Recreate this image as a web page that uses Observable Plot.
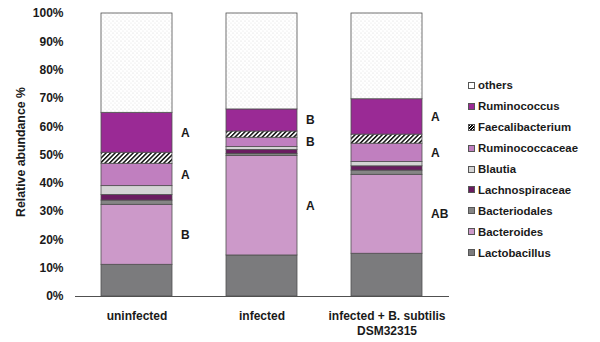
<!DOCTYPE html>
<html><head><meta charset="utf-8">
<script src="https://cdn.jsdelivr.net/npm/d3@7"></script>
<script src="https://cdn.jsdelivr.net/npm/@observablehq/plot@0.6"></script>
<style>
body{margin:0;background:#fff;}
#wrap{position:relative;width:600px;height:342px;font-family:"Liberation Sans",Arial,sans-serif;}
#legend{position:absolute;left:468px;top:75px;}
.item{display:flex;align-items:center;height:20.9px;font-size:11.4px;font-weight:bold;color:#1a1a1a;white-space:nowrap;}
.sw{width:5px;height:5px;border:1px solid #555;margin-right:3px;flex:none;}
#ylab{position:absolute;left:21px;top:152px;transform:translate(-50%,-50%) rotate(-90deg);font-size:12.3px;font-weight:bold;color:#1a1a1a;white-space:nowrap;}
</style></head>
<body><div id="wrap"><div id="legend"></div><div id="ylab"></div></div>
<script>
const groups = ["uninfected", "infected", "infected + B. subtilis DSM32315"];
const tickLabels = ["uninfected", "infected", "infected + B. subtilis\nDSM32315"];
const yLabel = "Relative abundance %";
const taxa = ["Lactobacillus", "Bacteroides", "Bacteriodales", "Lachnospiraceae", "Blautia", "Ruminococcaceae", "Faecalibacterium", "Ruminococcus", "others"];
const uninfected = [11.2, 21.2, 1.5, 2.0, 3.1, 7.9, 3.9, 14.1, 35.1];
const infected = [14.5, 35.2, 0.7, 1.4, 1.0, 3.3, 2.2, 7.8, 33.9];
const infectedBs = [15.1, 27.9, 1.5, 1.5, 1.5, 6.5, 3.2, 12.5, 30.3];
const fills = ["#7b7b7d", "#cc99c9", "#858585", "#6a1c60", "#d4d4d4", "#c07fbf", "url(#hatch)", "#9a2a95", "url(#dots)"];
const legendBg = ["#7b7b7d", "#cc99c9", "#858585", "#6a1c60", "#d4d4d4", "#c07fbf", "repeating-linear-gradient(135deg,#000 0 1px,#fff 1px 2px)", "#9a2a95", "#fff"];
const letteredTaxa = ["Bacteroides", "Ruminococcaceae", "Ruminococcus"];
const lettersUninfected = ["B", "A", "A"];
const lettersInfected = ["A", "B", "B"];
const lettersInfectedBs = ["AB", "A", "A"];
const yTicks = [0, 10, 20, 30, 40, 50, 60, 70, 80, 90, 100];

const valueSets = [uninfected, infected, infectedBs];
const letterSets = [lettersUninfected, lettersInfected, lettersInfectedBs];
const rows = [];
groups.forEach((g, gi) => {
  taxa.forEach((t, ti) => {
    const li = letteredTaxa.indexOf(t);
    rows.push({group: g, taxon: t, value: valueSets[gi][ti], letter: li >= 0 ? letterSets[gi][li] : ""});
  });
});

const chart = Plot.plot({
  width: 600, height: 342,
  marginLeft: 75, marginRight: 151, marginTop: 13, marginBottom: 46,
  style: {fontFamily: "'Liberation Sans', Arial, sans-serif", fontSize: "12px", fontWeight: "bold", color: "#1a1a1a", background: "transparent"},
  x: {domain: groups, paddingInner: 0.43, paddingOuter: 0.205, label: null},
  y: {domain: [0, 100], label: null},
  color: {type: "ordinal", domain: taxa, range: fills},
  marks: [
    Plot.axisX({tickSize: 0, tickPadding: 13, lineHeight: 1.25, label: null, tickFormat: d => tickLabels[groups.indexOf(d)]}),
    Plot.axisY({ticks: yTicks, tickFormat: d => d + "%", label: null, tickSize: 0, tickPadding: 12}),
    Plot.barY(rows, Plot.stackY({x: "group", y: "value", z: "taxon", fill: "taxon", order: taxa, stroke: "#505050", strokeWidth: 0.8})),
    Plot.ruleY([0], {stroke: "#505050", strokeWidth: 1}),
    Plot.text(rows, Plot.stackY({x: "group", y: "value", z: "taxon", order: taxa, text: "letter", dx: 44, textAnchor: "start", fontSize: 12, fontWeight: "bold", fill: "#1a1a1a"}))
  ]
});

d3.select(chart).insert("defs", ":first-child").html(
  '<pattern id="hatch" width="3.2" height="3.2" patternUnits="userSpaceOnUse" patternTransform="rotate(45)">' +
  '<rect width="3.2" height="3.2" fill="#fff"/><rect width="1.5" height="3.2" fill="#111"/></pattern>' +
  '<pattern id="dots" width="4" height="4" patternUnits="userSpaceOnUse">' +
  '<rect width="4" height="4" fill="#fff"/><circle cx="1" cy="1" r="0.6" fill="#d8d8d8"/><circle cx="3" cy="3" r="0.6" fill="#e4e4e4"/></pattern>'
);

const wrap = document.getElementById("wrap");
wrap.insertBefore(chart, wrap.firstChild);
document.getElementById("ylab").textContent = yLabel;

const legend = document.getElementById("legend");
for (let i = taxa.length - 1; i >= 0; i--) {
  const item = document.createElement("div");
  item.className = "item";
  const sw = document.createElement("span");
  sw.className = "sw";
  sw.style.background = legendBg[i];
  item.appendChild(sw);
  item.appendChild(document.createTextNode(taxa[i]));
  legend.appendChild(item);
}
</script>
</body></html>
